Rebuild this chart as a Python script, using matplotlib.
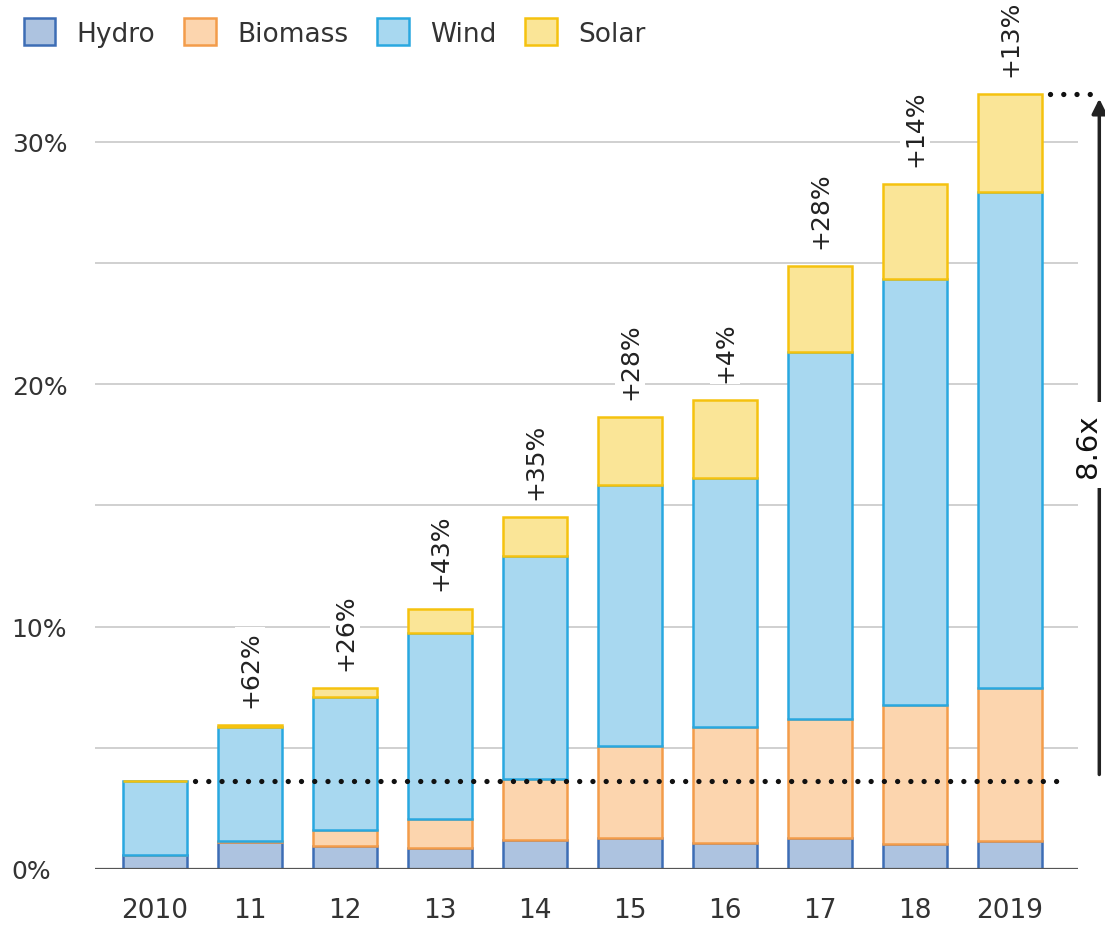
import matplotlib
matplotlib.use("Agg")
import matplotlib.pyplot as plt
import numpy as np
from matplotlib.patches import Patch

years = ["2010", "11", "12", "13", "14", "15", "16", "17", "18", "2019"]
hydro = [0.58, 1.10, 0.95, 0.87, 1.20, 1.28, 1.07, 1.28, 1.03, 1.16]
biomass = [0.0, 0.05, 0.65, 1.20, 2.52, 3.80, 4.79, 4.91, 5.74, 6.31]
wind = [3.05, 4.71, 5.50, 7.68, 9.21, 10.77, 10.28, 15.15, 17.58, 20.47]
solar = [0.0, 0.09, 0.37, 0.99, 1.60, 2.81, 3.22, 3.54, 3.92, 4.04]
growth = ["", "+62%", "+26%", "+43%", "+35%", "+28%", "+4%", "+28%", "+14%", "+13%"]
multiple = "8.6x"

series = [
    ("Hydro", hydro, "#adc3e0", "#3d6db5"),
    ("Biomass", biomass, "#fcd5ae", "#f39c4a"),
    ("Wind", wind, "#a8d8f0", "#29a8e0"),
    ("Solar", solar, "#fae597", "#f5c20f"),
]

fig = plt.figure(figsize=(11.05, 9.28), dpi=100)
ax = fig.add_axes([0.086, 0.0625, 0.914, 0.875])

x = np.arange(len(years))
bottom = np.zeros(len(years))
handles = []
for name, vals, face, edge in series:
    vals = np.array(vals)
    ax.bar(x, vals, 0.68, bottom=bottom, color=face, edgecolor=edge,
           linewidth=1.8, zorder=3)
    bottom += vals
    handles.append(Patch(facecolor=face, edgecolor=edge, linewidth=1.8, label=name))

totals = bottom
xmin, xmax = -0.63, 9.72
ax.set_xlim(xmin, 10.0)
ax.set_ylim(0, 33.5)

# gridlines
for g in range(5, 35, 5):
    ax.hlines(g, xmin, xmax, color="#c4c4c4", linewidth=1.1, zorder=1)
ax.hlines(0, xmin, xmax, color="#555555", linewidth=1.6, zorder=4)

for side in ax.spines.values():
    side.set_visible(False)

ax.set_xticks(x)
ax.set_xticklabels(years, fontsize=19, color="#333333")
ax.set_yticks([0, 10, 20, 30])
ax.set_yticklabels(["0%", "10%", "20%", "30%"], fontsize=18, color="#333333",
                   ha="left")
ax.tick_params(length=0)
ax.tick_params(axis="x", pad=20)
ax.tick_params(axis="y", pad=60)

# growth labels
for i, txt in enumerate(growth):
    if txt:
        ax.text(x[i], totals[i] + 0.75, txt, rotation=90, ha="center", va="bottom",
                fontsize=18, color="#222222", zorder=5, clip_on=False,
                bbox=dict(facecolor="white", edgecolor="none", pad=2))

# dotted reference lines
dot_style = dict(color="#111111", linewidth=3.8, linestyle=(0, (0.01, 2.5)),
                 dash_capstyle="round", zorder=6, clip_on=False)
ax.plot([0.42, 9.52], [totals[0], totals[0]], **dot_style)
ax.plot([9.42, 9.95], [totals[-1], totals[-1]], **dot_style)

# arrow with multiple
ax.annotate("", xy=(9.94, totals[-1] - 0.2), xytext=(9.94, 3.9),
            arrowprops=dict(arrowstyle="-|>", color="#222222", lw=2.5,
                            mutation_scale=22, shrinkA=0, shrinkB=0),
            annotation_clip=False, zorder=6)
ax.text(9.82, 17.5, multiple, rotation=90, ha="center", va="center", fontsize=21,
        color="#111111", zorder=7,
        bbox=dict(facecolor="white", edgecolor="none", pad=8))

fig.legend(handles=handles, loc="upper left", bbox_to_anchor=(0.0, 1.005), ncol=4,
           frameon=False, fontsize=19, handlelength=1.2, handleheight=1.2,
           handletextpad=0.8, columnspacing=1.1, labelcolor="#333333")

fig.savefig("out.png", dpi=100)
